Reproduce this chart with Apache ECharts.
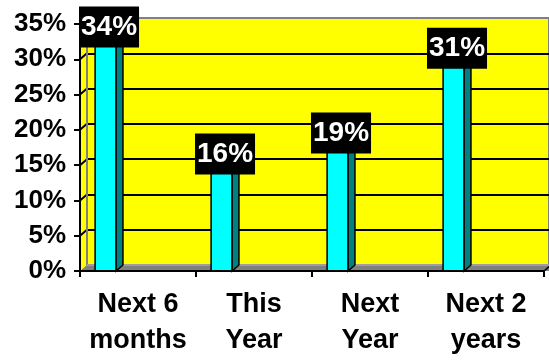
<!DOCTYPE html>
<html>
<head>
<meta charset="utf-8">
<script src="https://cdn.jsdelivr.net/npm/echarts@6/dist/echarts.min.js"></script>
<style>html,body{margin:0;padding:0;background:#fff}#c{width:549px;height:362px}</style>
</head>
<body>
<div id="c"></div>
<script>
const categories = ['Next 6\nmonths', 'This\nYear', 'Next\nYear', 'Next 2\nyears'];
const values = [34, 16, 19, 31];
const yTicks = [0, 5, 10, 15, 20, 25, 30, 35];

const DX = 7, DY = 6;
const FONT = '"Liberation Sans", Arial, sans-serif';

const chart = echarts.init(document.getElementById('c'));

function renderWalls(params, api) {
  const cs = params.coordSys;
  const x0 = cs.x, x1 = cs.x + cs.width, yb = cs.y + cs.height, yt = cs.y;
  const children = [];
  children.push({type: 'polygon', shape: {points: [[x0, yt], [x0 + DX, yt - DY], [x0 + DX, yb - DY], [x0, yb]]},
    style: {fill: '#FFFF00', stroke: null}});
  yTicks.forEach(function (t) {
    if (t === yTicks[0] || t === yTicks[yTicks.length - 1]) return;
    const y = api.coord([0, t])[1];
    children.push({type: 'line', shape: {x1: x0, y1: y, x2: x0 + DX, y2: y - DY}, style: {stroke: '#000', lineWidth: 2}});
  });
  children.push({type: 'line', shape: {x1: x0 + DX, y1: yt - DY, x2: x0 + DX, y2: yb - DY}, style: {stroke: '#808080', lineWidth: 2}});
  children.push({type: 'polygon', shape: {points: [[x0, yb], [x0 + DX, yb - DY], [x1 + DX + 10, yb - DY], [x1 + 10, yb]]},
    style: {fill: '#808080', stroke: null}});
  children.push({type: 'line', shape: {x1: x0 + DX, y1: yb - DY, x2: x1 + DX + 10, y2: yb - DY}, style: {stroke: '#a8a8a8', lineWidth: 1.5}});
  children.push({type: 'line', shape: {x1: x1, y1: yb, x2: x1 + DX, y2: yb - DY}, style: {stroke: '#000', lineWidth: 1.5}});
  return {type: 'group', children: children};
}

function renderBar(params, api) {
  const idx = api.value(0);
  const v = api.value(1);
  const top = api.coord([idx, v]);
  const base = api.coord([idx, 0]);
  const band = api.size([1, 0])[0];
  const w = band * 0.18;
  const cx = top[0] - band * 0.28;
  const xl = cx - w / 2, xr = cx + w / 2, yt = top[1], yb = base[1];
  return {
    type: 'group',
    children: [
      {type: 'polygon', shape: {points: [[xr, yt], [xr + DX, yt - DY], [xr + DX, yb - DY], [xr, yb]]},
        style: {fill: '#008080', stroke: '#000', lineWidth: 1.5}},
      {type: 'polygon', shape: {points: [[xl, yt], [xl + DX, yt - DY], [xr + DX, yt - DY], [xr, yt]]},
        style: {fill: '#00d8d8', stroke: '#000', lineWidth: 1.5}},
      {type: 'rect', shape: {x: xl, y: yt, width: w, height: yb - yt},
        style: {fill: '#00FFFF', stroke: '#000', lineWidth: 1.5}},
      {type: 'text', x: cx + DX / 2, y: yt - 4, z2: 100,
        style: {text: v + '%', fill: '#fff', font: 'bold 28px ' + FONT, align: 'center', verticalAlign: 'middle',
          backgroundColor: '#000', padding: [6, 2, 3, 2], lineHeight: 32}}
    ]
  };
}

const option = {
  animation: false,
  backgroundColor: '#fff',
  grid: [
    {left: 87, top: 18, width: 462, height: 247, show: true, backgroundColor: '#FFFF00', borderColor: '#808080', borderWidth: 2},
    {left: 80, top: 24, width: 464, height: 247}
  ],
  xAxis: [
    {gridIndex: 0, type: 'category', data: categories, show: false},
    {gridIndex: 1, type: 'category', data: categories, z: 5,
      axisLine: {lineStyle: {color: '#000', width: 2}},
      axisTick: {show: true, length: 6, lineStyle: {color: '#000', width: 2}},
      axisLabel: {color: '#000', fontFamily: FONT, fontWeight: 'bold', fontSize: 27, lineHeight: 36, margin: 16, interval: 0}}
  ],
  yAxis: [
    {gridIndex: 0, type: 'value', min: yTicks[0], max: yTicks[yTicks.length - 1], interval: yTicks[1] - yTicks[0],
      axisLine: {show: false}, axisTick: {show: false}, axisLabel: {show: false},
      splitLine: {show: true, showMinLine: false, showMaxLine: false, lineStyle: {color: '#000', width: 2}}},
    {gridIndex: 1, type: 'value', min: yTicks[0], max: yTicks[yTicks.length - 1], interval: yTicks[1] - yTicks[0], z: 5,
      axisLine: {show: true, lineStyle: {color: '#000', width: 2}},
      axisTick: {show: true, length: 6, lineStyle: {color: '#000', width: 2}},
      splitLine: {show: false},
      axisLabel: {color: '#000', fontFamily: FONT, fontWeight: 'bold', fontSize: 26, margin: 14, formatter: '{value}%'}}
  ],
  series: [
    {type: 'custom', name: 'walls', xAxisIndex: 1, yAxisIndex: 1, z: 1, silent: true,
      renderItem: renderWalls, data: [[0, 0]], clip: false},
    {type: 'custom', name: 'share', xAxisIndex: 1, yAxisIndex: 1, z: 3, clip: false,
      renderItem: renderBar, data: values.map(function (v, i) { return [i, v]; })}
  ]
};
chart.setOption(option);
</script>
</body>
</html>
